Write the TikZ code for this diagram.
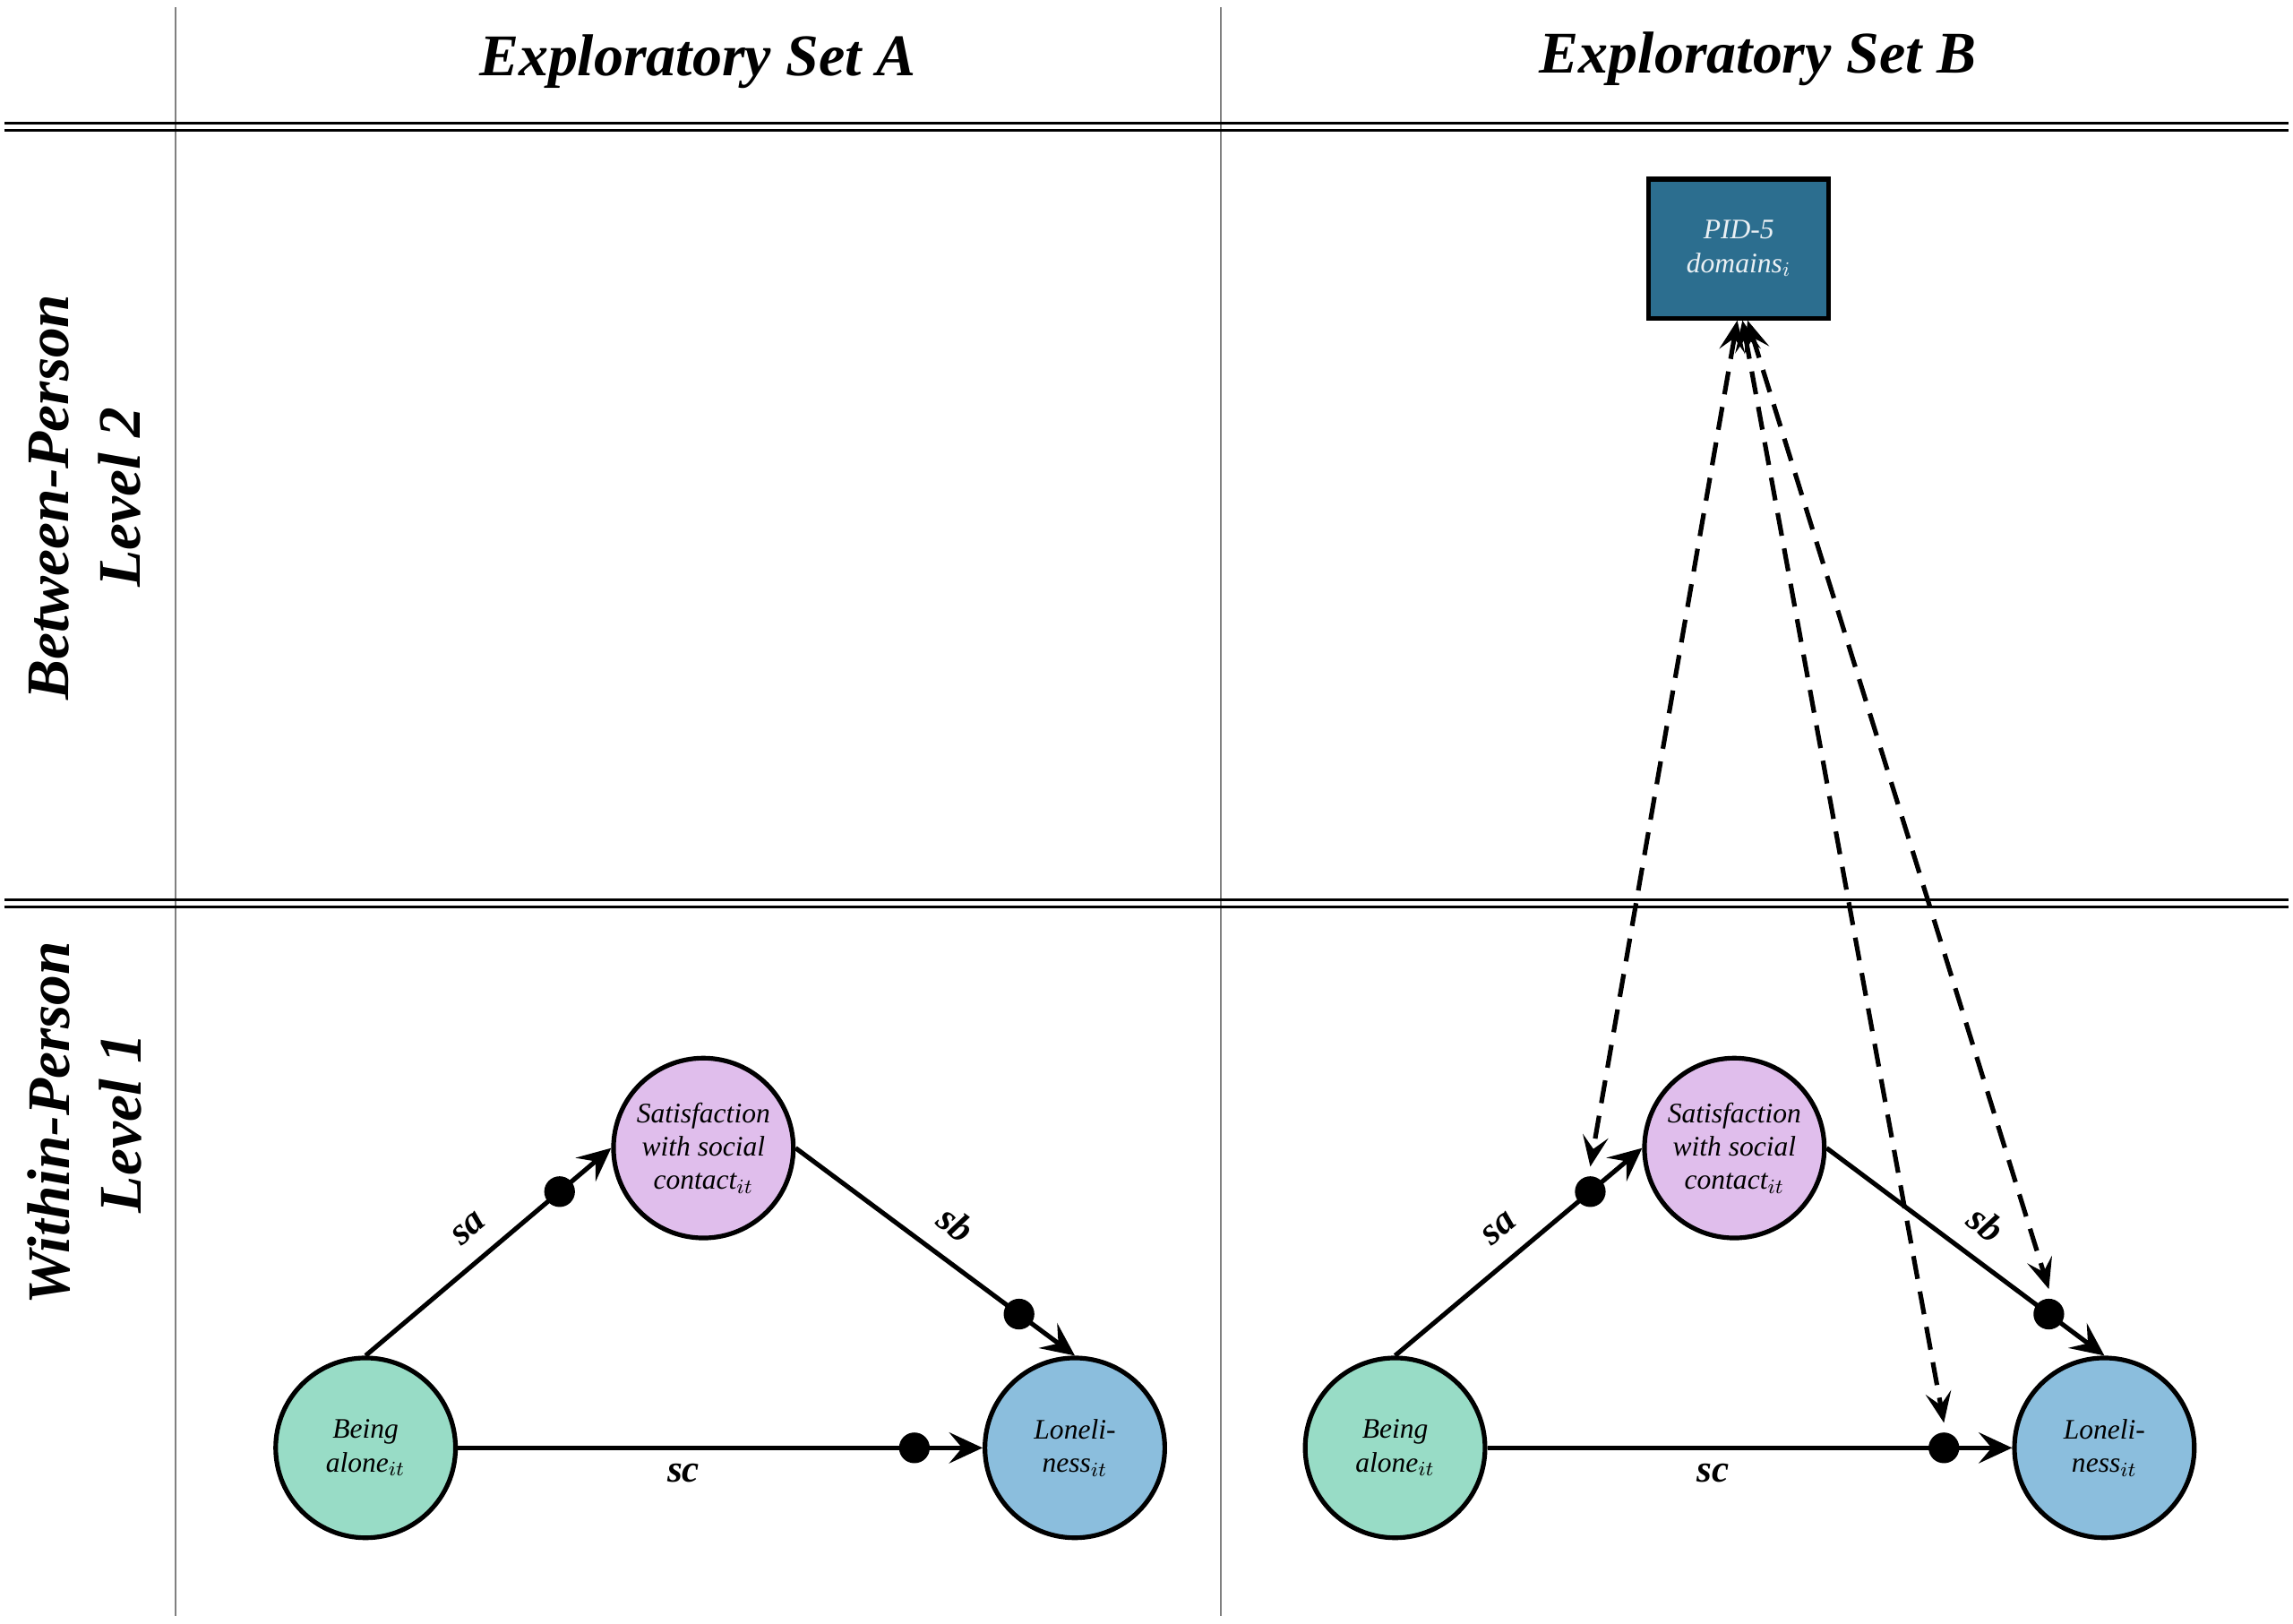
\documentclass[tikz,border=0pt]{standalone}
\usepackage{fontspec}
\setmainfont{Liberation Serif}
\usetikzlibrary{arrows.meta}
\definecolor{cgreen}{HTML}{98DCC6}
\definecolor{cpurple}{HTML}{E0BEEC}
\definecolor{cblue}{HTML}{8BBEDD}
\definecolor{cbox}{HTML}{2C6E8F}
\begin{document}
\begin{tikzpicture}[x=0.02cm,y=-0.02cm,
  circ/.style={circle,draw,line width=1.8pt,minimum size=2.46cm,inner sep=0pt,align=center,font=\itshape\fontsize{11}{13}\selectfont},
  arr/.style={line width=1.8pt,-{Stealth[length=13pt,width=12pt,inset=5pt]}},
  dsh/.style={line width=1.8pt,dash pattern=on 9pt off 5pt,{Stealth[length=12pt,width=10pt,inset=5pt]}-{Stealth[length=12pt,width=10pt,inset=5pt]}},
  dotn/.style={circle,fill=black,inner sep=0pt,minimum size=0.42cm},
  elab/.style={font=\bfseries\itshape\fontsize{15}{17}\selectfont},
  title/.style={font=\bfseries\itshape\fontsize{23}{27}\selectfont},
  rowlab/.style={font=\bfseries\itshape\fontsize{23.5}{28}\selectfont,rotate=90,align=center},
  grid/.style={gray,line width=0.8pt}]
\useasboundingbox (0,0) rectangle (1568,1110);
% grid
\draw[grid] (120,5) -- (120,1105);
\draw[grid] (835,5) -- (835,1105);
\foreach \y in {84,89,615,620} \draw[line width=1pt] (3,\y) -- (1565,\y);
% titles
\node[title] (tA) at (477,42) {Exploratory Set A};
\node[title] (tB) at (1202,40) {Exploratory Set B};
\node[rowlab] (r2) at (58,340) {Between-Person\\Level 2};
\node[rowlab] (r1) at (58,768) {Within-Person\\Level 1};
% PID box
\node[draw,line width=1.8pt,fill=cbox,minimum width=2.46cm,minimum height=1.9cm,align=center,text=white!90!cbox,font=\itshape\fontsize{11}{13}\selectfont] (pid) at (1189,170) {PID-5\\domains$_{i}$};
% Set A
\node[circ,fill=cgreen] (baA) at (250,990) {Being\\alone$_{it}$};
\node[circ,fill=cpurple] (saA) at (481,785) {Satisfaction\\with social\\contact$_{it}$};
\node[circ,fill=cblue] (loA) at (735,990) {Loneli-\\ness$_{it}$};
\draw[arr] (baA.north) -- node[dotn,pos=0.79] (dA1) {} node[elab,pos=0.5,above=4pt,sloped] {sa} (saA.west);
\draw[arr] (saA.east) -- node[dotn,pos=0.8] (dA2) {} node[elab,pos=0.5,above=4pt,sloped] {sb} (loA.north);
\draw[arr] (baA) -- node[dotn,pos=0.87] (dA3) {} node[elab,pos=0.43,below=2pt] {sc} (loA);
% Set B
\node[circ,fill=cgreen] (baB) at (954,990) {Being\\alone$_{it}$};
\node[circ,fill=cpurple] (saB) at (1186,785) {Satisfaction\\with social\\contact$_{it}$};
\node[circ,fill=cblue] (loB) at (1439,990) {Loneli-\\ness$_{it}$};
\draw[arr] (baB.north) -- node[dotn,pos=0.79] (dB1) {} node[elab,pos=0.5,above=4pt,sloped] {sa} (saB.west);
\draw[arr] (saB.east) -- node[dotn,pos=0.8] (dB2) {} node[elab,pos=0.5,above=4pt,sloped] {sb} (loB.north);
\draw[arr] (baB) -- node[dotn,pos=0.87] (dB3) {} node[elab,pos=0.43,below=2pt] {sc} (loB);
% dashed
\draw[dsh] ([xshift=-0.02cm]pid.south) -- ([yshift=0.1cm]dB1.north);
\draw[dsh] ([xshift=0.05cm]pid.south) -- ([yshift=0.1cm]dB3.north);
\draw[dsh] ([xshift=0.12cm]pid.south) -- ([yshift=0.1cm]dB2.north);
\end{tikzpicture}
\end{document}
